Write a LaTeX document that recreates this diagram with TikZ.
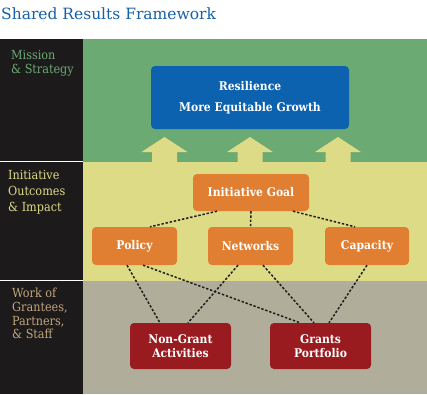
\documentclass[tikz,border=0pt]{standalone}
\usepackage{fontspec}
\setmainfont{DejaVu Serif}
\newfontfamily\boxfont{DejaVu Serif Condensed}
\begin{document}
\begin{tikzpicture}[x=1pt,y=-1pt,
  sidelabel/.style={anchor=north west,align=left,inner sep=0pt},
  boxbase/.style={rounded corners=4pt,inner sep=0pt,align=center,text=white,font=\boxfont\bfseries\fontsize{12}{14}\selectfont},
  goalbox/.style={boxbase,fill=orangeC,minimum width=85pt,minimum height=38pt},
  workbox/.style={boxbase,fill=redC,minimum width=101pt,minimum height=46pt},
  link/.style={draw=lineC,line width=1.5pt,dash pattern=on 2.4pt off 1.8pt},
  uparrow/.style={fill=yellowC,draw=none}
]
\definecolor{titleC}{HTML}{1560A8}
\definecolor{greenC}{HTML}{6CAA74}
\definecolor{yellowC}{HTML}{DEDB86}
\definecolor{greyC}{HTML}{B0AE9B}
\definecolor{blackC}{HTML}{1C1A1B}
\definecolor{blueC}{HTML}{0C62AE}
\definecolor{orangeC}{HTML}{E07E32}
\definecolor{redC}{HTML}{991B20}
\definecolor{tanC}{HTML}{C2A57C}
\definecolor{lineC}{HTML}{1E1E1E}
\useasboundingbox (0,0) rectangle (427,394);
\fill[white] (0,0) rectangle (427,394);
% bands
\fill[blackC] (0,39) rectangle (83,394);
\fill[greenC] (83,39) rectangle (427,161.5);
\fill[yellowC] (83,161.5) rectangle (427,280.5);
\fill[greyC] (83,280.5) rectangle (427,394);
\draw[white,line width=1pt] (0,161) -- (83,161);
\draw[white,line width=1pt] (0,280.5) -- (83,280.5);
% title
\node[anchor=base west,inner sep=0pt,text=titleC,font=\fontsize{15.5}{18}\selectfont] (title) at (1,19.5) {Shared Results Framework};
% side labels
\node[sidelabel,text=greenC,font=\boxfont\fontsize{12.5}{14}\selectfont] (lmission) at (11,50) {Mission\\\& Strategy};
\node[sidelabel,text=yellowC,font=\boxfont\fontsize{12.5}{16}\selectfont] (linit) at (8,170) {Initiative\\Outcomes\\\& Impact};
\node[sidelabel,text=tanC,font=\boxfont\fontsize{12.5}{13.7}\selectfont] (lwork) at (12,288) {Work of\\Grantees,\\Partners,\\\& Staff};
% arrows
\foreach \cx/\nm in {164.5/a1,250/a2,338/a3}{
  \fill[uparrow] (\cx,137) -- (\cx+23,152) -- (\cx+12.5,152) -- (\cx+12.5,162) -- (\cx-12.5,162) -- (\cx-12.5,152) -- (\cx-23,152) -- cycle;
}
% mission box
\node[boxbase,fill=blueC,minimum width=198pt,minimum height=63pt,font=\boxfont\bfseries\fontsize{12}{21}\selectfont] (mission) at (250,97.5) {Resilience\\More Equitable Growth};
% outcomes
\node[goalbox,minimum width=116pt,minimum height=37pt] (goal) at (251,192.5) {Initiative Goal};
\node[goalbox] (pol) at (134.5,246) {Policy};
\node[goalbox] (net) at (250.5,246) {Networks};
\node[goalbox,minimum width=84pt] (cap) at (367,246) {Capacity};
% work
\node[workbox] (ng) at (180.5,346) {Non-Grant\\Activities};
\node[workbox] (gr) at (320.5,346) {Grants\\Portfolio};
% links
\draw[link] ([xshift=-34pt]goal.south) -- ([xshift=15.5pt]pol.north);
\draw[link] (goal.south) -- (net.north);
\draw[link] ([xshift=42pt]goal.south) -- ([xshift=-12pt]cap.north);
\draw[link] ([xshift=-7.5pt]pol.south) -- ([xshift=-20.5pt]ng.north);
\draw[link] ([xshift=8.5pt]pol.south) -- ([xshift=-20.5pt]gr.north);
\draw[link] ([xshift=-12.5pt]net.south) -- ([xshift=7.5pt]ng.north);
\draw[link] ([xshift=12.5pt]net.south) -- ([xshift=-6.5pt]gr.north);
\draw[link] (cap.south) -- ([xshift=8.5pt]gr.north);
\end{tikzpicture}
\end{document}
